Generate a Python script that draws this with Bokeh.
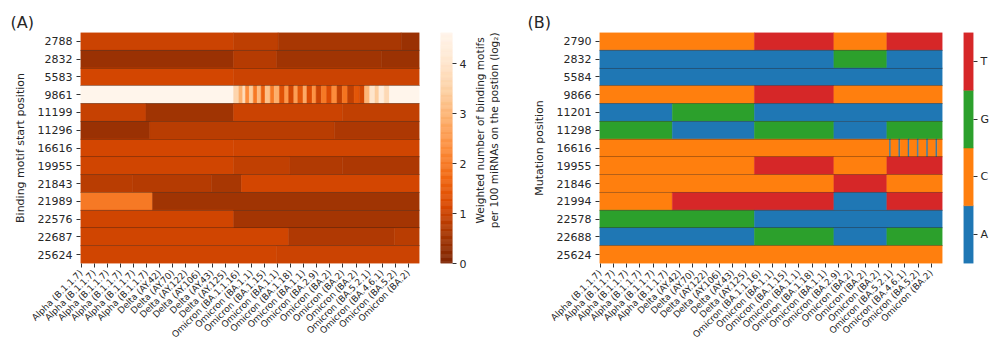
import math
import numpy as np
from bokeh.plotting import figure
from bokeh.layouts import row
from bokeh.models import Range1d, FixedTicker, ColumnDataSource
from bokeh.transform import linear_cmap, factor_cmap
from bokeh.core.properties import value
from bokeh.embed import file_html
from bokeh.resources import INLINE

# ---------------- data ----------------
N_SAMPLES = 259
tick_cols = [0, 10, 20, 30, 40, 50, 60, 70, 80, 90, 100, 110, 120, 130, 140, 150,
             160, 170, 180, 190, 200, 210, 220, 230, 240, 250]
variant_labels = ["Alpha (B.1.1.7)"] * 6 + [
    "Delta (AY.42)", "Delta (AY.70)", "Delta (AY.122)", "Delta (AY.106)",
    "Delta (AY.43)", "Delta (AY.125)",
    "Omicron (BA.1.1.16)", "Omicron (BA.1.1)", "Omicron (BA.1.15)", "Omicron (BA.1.1)",
    "Omicron (BA.1.18)", "Omicron (BA.1.1)", "Omicron (BA.2.9)", "Omicron (BA.2)",
    "Omicron (BA.2)", "Omicron (BA.2)", "Omicron (BA.5.2.1)", "Omicron (BA.4.6.1)",
    "Omicron (BA.5.2)", "Omicron (BA.2)"]

motif_positions = ["2788", "2832", "5583", "9861", "11199", "11296", "16616",
                   "19955", "21843", "21989", "22576", "22687", "25624"]
motif_breaks = [
    [0, 117, 151, 245],
    [0, 117, 150, 230],
    [0, 117],
    [0, 117, 121, 124, 126, 129, 132, 135, 138, 141, 145, 148, 152, 156, 159, 163,
     166, 170, 173, 177, 180, 184, 188, 192, 196, 200, 204, 209, 213, 217, 221,
     225, 228, 232, 236],
    [0, 50, 117, 200],
    [0, 53, 194],
    [0, 117],
    [0, 117, 160, 200],
    [0, 40, 100, 123],
    [0, 55],
    [0, 117],
    [0, 159, 240],
    [0, 150],
]
motif_values = [
    [1.0, 0.85, 0.6, 0.4],
    [0.4, 0.75, 0.5, 0.42],
    [1.1, 1.0],
    [4.8, 3.6, 2.9, 3.8, 2.3, 3.4, 2.0, 3.1, 1.6, 3.2, 2.0, 2.9, 1.3, 2.5, 1.1, 2.6,
     1.4, 2.8, 1.2, 2.4, 1.0, 2.0, 1.2, 2.3, 0.9, 1.9, 0.9, 1.4, 1.1, 3.0, 4.0,
     3.4, 4.3, 3.7, 4.8],
    [0.95, 0.5, 1.0, 0.9],
    [0.4, 0.8, 0.65],
    [1.1, 1.05],
    [1.05, 0.9, 0.72, 0.65],
    [0.8, 0.75, 0.6, 1.1],
    [2.0, 0.5],
    [1.05, 0.55],
    [1.05, 0.7, 0.8],
    [1.05, 1.0],
]
VMAX = 4.62
cbar_ticks = [0, 1, 2, 3, 4]

mutation_positions = ["2790", "2832", "5584", "9866", "11201", "11298", "16616",
                      "19955", "21846", "21994", "22578", "22688", "25624"]
nucleotides = ["A", "C", "G", "T"]
mutation_breaks = [
    [0, 117, 177, 217],
    [0, 177, 217],
    [0],
    [0, 117, 177],
    [0, 55, 117],
    [0, 55, 117, 177, 217],
    [0, 219, 220, 226, 227, 233, 234, 240, 241, 247, 248, 254, 255],
    [0, 117, 177, 217],
    [0, 177, 217],
    [0, 55, 177, 217],
    [0, 117],
    [0, 117, 177, 217],
    [0],
]
mutation_bases = [
    ["C", "T", "C", "T"],
    ["A", "G", "A"],
    ["A"],
    ["C", "T", "C"],
    ["A", "G", "A"],
    ["G", "A", "G", "A", "G"],
    ["C", "A", "C", "A", "C", "A", "C", "A", "C", "A", "C", "A", "C"],
    ["C", "T", "C", "T"],
    ["C", "T", "C"],
    ["C", "T", "A", "T"],
    ["G", "A"],
    ["A", "G", "A", "G"],
    ["C"],
]

# ---------------- styles ----------------
FONT = "DejaVu Sans"
TXT = "#262626"
ORANGES = ["#7f2704", "#a63603", "#d94801", "#f16913", "#fd8d3c",
           "#fdae6b", "#fdd0a2", "#fee6ce", "#fff5eb"]
NT_COLORS = ["#1f77b4", "#ff7f0e", "#2ca02c", "#d62728"]


def interp_palette(anchors, n=256):
    rgb = np.array([[int(c[i:i + 2], 16) for i in (1, 3, 5)] for c in anchors], float)
    pos = np.linspace(0, 1, len(anchors))
    t = np.linspace(0, 1, n)
    out = []
    for v in t:
        r, g, b = (np.interp(v, pos, rgb[:, k]) for k in range(3))
        out.append("#%02x%02x%02x" % (int(round(r)), int(round(g)), int(round(b))))
    return out


PAL = interp_palette(ORANGES)


def segments(breaks, vals, key):
    d = {"y": [], "left": [], "right": [], key: []}
    for i, (b, v) in enumerate(zip(breaks, vals)):
        for j in range(len(b)):
            end = b[j + 1] if j + 1 < len(b) else N_SAMPLES
            d["y"].append(i)
            d["left"].append(b[j] - 0.5)
            d["right"].append(end - 0.5)
            d[key].append(v[j])
    return ColumnDataSource(d)


def style_heatmap(p, ylabels, ylab):
    p.outline_line_color = None
    p.xaxis.ticker = FixedTicker(ticks=tick_cols)
    p.xaxis.major_label_overrides = {c: l for c, l in zip(tick_cols, variant_labels)}
    p.xaxis.major_label_orientation = math.pi / 4
    p.xaxis.major_label_text_font_size = "9px"
    p.yaxis.ticker = FixedTicker(ticks=list(range(len(ylabels))))
    p.yaxis.major_label_overrides = {i: l for i, l in enumerate(ylabels)}
    p.yaxis.major_label_text_font_size = "11px"
    p.yaxis.axis_label = ylab
    p.yaxis.axis_label_text_font_size = "11px"
    p.yaxis.axis_label_text_font_style = "normal"
    p.yaxis.axis_label_text_font = FONT
    p.yaxis.axis_label_text_color = TXT
    p.yaxis.axis_label_standoff = 8
    for ax in (p.xaxis, p.yaxis):
        ax.axis_line_color = None
        ax.minor_tick_line_color = None
        ax.major_tick_in = 0
        ax.major_tick_out = 4
        ax.major_tick_line_color = "#333333"
        ax.major_label_text_font = FONT
        ax.major_label_text_color = TXT
        ax.major_label_standoff = 4
    p.xgrid.visible = False
    p.ygrid.ticker = FixedTicker(ticks=[i + 0.5 for i in range(len(ylabels) - 1)])
    p.ygrid.grid_line_color = "#2a1a10"
    p.ygrid.grid_line_alpha = 0.35
    p.ygrid.grid_line_width = 1
    p.ygrid.level = "overlay"
    p.title.text_font = FONT
    p.title.text_font_size = "16px"
    p.title.text_font_style = "normal"
    p.title.text_color = TXT
    p.title.standoff = 2


def style_cbar(p, ticks, overrides=None):
    p.outline_line_color = None
    p.xgrid.visible = False
    p.ygrid.visible = False
    ax = p.yaxis
    ax.ticker = FixedTicker(ticks=ticks)
    if overrides:
        ax.major_label_overrides = overrides
    ax.axis_line_color = None
    ax.minor_tick_line_color = None
    ax.major_tick_in = 0
    ax.major_tick_out = 4
    ax.major_tick_line_color = "#333333"
    ax.major_label_text_font = FONT
    ax.major_label_text_font_size = "11px"
    ax.major_label_text_color = TXT
    ax.major_label_standoff = 3


common = dict(height=347, output_backend="svg", toolbar_location=None,
              min_border_top=32, min_border_bottom=84)

# ---------------- panel A ----------------
srcA = segments(motif_breaks, motif_values, "val")
pA = figure(width=430, x_range=Range1d(-0.5, N_SAMPLES - 0.5),
            y_range=Range1d(len(motif_positions) - 0.5, -0.5),
            min_border_left=80, min_border_right=11, title="(A)", **common)
cmapA = linear_cmap("val", PAL, 0, VMAX)
pA.hbar(y="y", left="left", right="right", height=1, source=srcA,
        fill_color=cmapA, line_color=cmapA, line_width=0.5)
style_heatmap(pA, motif_positions, "Binding motif start position")
pA.title.offset = -70

# colorbar A
lev = np.linspace(0, VMAX, 201)
cbA_src = ColumnDataSource(dict(b=lev[:-1], t=lev[1:], m=(lev[:-1] + lev[1:]) / 2))
cbA = figure(width=40, x_range=Range1d(0, 1), y_range=Range1d(0, VMAX),
             y_axis_location="right", x_axis_location=None,
             min_border_left=10, min_border_right=18, **common)
cmapCB = linear_cmap("m", PAL, 0, VMAX)
cbA.quad(left=0, right=1, bottom="b", top="t", source=cbA_src,
         fill_color=cmapCB, line_color=cmapCB, line_width=0.5)
style_cbar(cbA, cbar_ticks)

# colorbar label
lbl = figure(width=30, height=347, x_range=Range1d(0, 30), y_range=Range1d(0, 347),
             output_backend="svg", toolbar_location=None, x_axis_location=None,
             y_axis_location=None, min_border=0)
lbl.outline_line_color = None
lbl.xgrid.visible = False
lbl.ygrid.visible = False
lbl.text(x=[9, 23], y=[200, 200],
         text=["Weighted number of binding motifs",
               "per 100 miRNAs on the postion (log\u2082)"],
         angle=math.pi / 2, text_align="center", text_baseline="middle",
         text_font=value(FONT), text_font_size="10.5px", text_color=TXT)

# ---------------- panel B ----------------
srcB = segments(mutation_breaks, mutation_bases, "nt")
pB = figure(width=450, x_range=Range1d(-0.5, N_SAMPLES - 0.5),
            y_range=Range1d(len(mutation_positions) - 0.5, -0.5),
            min_border_left=99, min_border_right=8, title="(B)", **common)
cmapB = factor_cmap("nt", NT_COLORS, nucleotides)
pB.hbar(y="y", left="left", right="right", height=1, source=srcB,
        fill_color=cmapB, line_color=cmapB, line_width=0.5)
style_heatmap(pB, mutation_positions, "Mutation position")
pB.title.offset = -72

cbB_src = ColumnDataSource(dict(y=list(range(len(nucleotides))), nt=nucleotides))
cbB = figure(width=42, x_range=Range1d(0, 1), y_range=Range1d(-0.5, len(nucleotides) - 0.5),
             y_axis_location="right", x_axis_location=None,
             min_border_left=13, min_border_right=17, **common)
cbB.hbar(y="y", left=0, right=1, height=1, source=cbB_src,
         fill_color=cmapB, line_color=cmapB, line_width=0.5)
style_cbar(cbB, list(range(len(nucleotides))),
           {i: n for i, n in enumerate(nucleotides)})

layout = row(pA, cbA, lbl, pB, cbB)
open("out.html", "w").write(file_html(layout, INLINE))
